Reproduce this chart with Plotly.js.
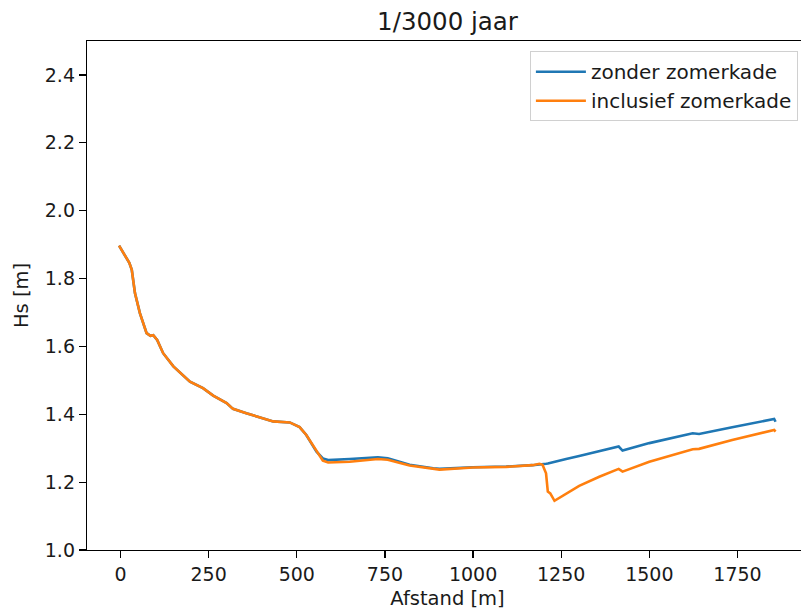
<!DOCTYPE html>
<html>
<head>
<meta charset="utf-8">
<script src="https://cdn.plot.ly/plotly-3.0.1.min.js"></script>
<style>
html, body { margin: 0; padding: 0; overflow: hidden; background: #fff; }
#chart { width: 822px; height: 610px; }
</style>
</head>
<body>
<div id="chart"></div>
<script>
const distance = [-4, 25, 32, 41, 55, 74, 85, 93, 104, 121, 150, 197, 234, 263, 301, 319, 357, 400, 433, 480, 508, 527, 556, 574, 589, 650, 730, 758, 820, 887, 905, 999, 1094, 1169, 1188, 1197, 1207, 1212, 1219, 1231, 1264, 1301, 1358, 1413, 1424, 1500, 1623, 1641, 1735, 1854, 1858];

const hsZonder = [1.897, 1.846, 1.826, 1.757, 1.698, 1.639, 1.631, 1.633, 1.619, 1.580, 1.541, 1.496, 1.477, 1.455, 1.433, 1.416, 1.403, 1.390, 1.379, 1.376, 1.362, 1.339, 1.290, 1.270, 1.265, 1.268, 1.273, 1.270, 1.251, 1.241, 1.239, 1.244, 1.246, 1.250, 1.251, 1.252, 1.254, 1.255, 1.257, 1.260, 1.268, 1.277, 1.291, 1.305, 1.293, 1.315, 1.344, 1.342, 1.362, 1.386, 1.378];

const hsInclusief = [1.897, 1.846, 1.826, 1.757, 1.698, 1.639, 1.631, 1.633, 1.619, 1.580, 1.541, 1.496, 1.477, 1.455, 1.433, 1.416, 1.403, 1.390, 1.379, 1.376, 1.362, 1.339, 1.290, 1.263, 1.258, 1.260, 1.268, 1.266, 1.249, 1.239, 1.237, 1.243, 1.245, 1.250, 1.254, 1.251, 1.226, 1.172, 1.167, 1.145, 1.165, 1.189, 1.216, 1.239, 1.231, 1.260, 1.297, 1.298, 1.324, 1.354, 1.349];

const seriesNames = ['zonder zomerkade', 'inclusief zomerkade'];
const titleText = '1/3000 jaar';
const xLabel = 'Afstand [m]';
const yLabel = 'Hs [m]';
const xTicks = [0, 250, 500, 750, 1000, 1250, 1500, 1750];
const yTicks = [1.0, 1.2, 1.4, 1.6, 1.8, 2.0, 2.2, 2.4];

const font = 'DejaVu Sans, sans-serif';
const txt = '#1a1a1a';

const traces = [
  { x: distance, y: hsZonder, name: seriesNames[0], mode: 'lines',
    line: { color: '#1f77b4', width: 2.6 } },
  { x: distance, y: hsInclusief, name: seriesNames[1], mode: 'lines',
    line: { color: '#ff7f0e', width: 2.6 } }
];

const axisCommon = {
  showline: true, mirror: true, linecolor: '#000', linewidth: 1.2,
  ticks: 'outside', ticklen: 7, tickwidth: 1.2, tickcolor: '#000',
  showgrid: false, zeroline: false,
  tickfont: { family: font, size: 19, color: txt }
};

const layout = {
  width: 822, height: 610,
  margin: { l: 87, r: 14, t: 41, b: 60 },
  paper_bgcolor: '#fff', plot_bgcolor: '#fff',
  font: { family: font, color: txt },
  title: { text: titleText, x: 0.5, xref: 'paper', xanchor: 'center',
           y: 1 - 21 / 610, yanchor: 'middle',
           font: { family: font, size: 24.5, color: txt } },
  xaxis: Object.assign({}, axisCommon, {
    range: [-95, 1950], tickmode: 'array', tickvals: xTicks,
    ticktext: xTicks.map(String),
    title: { text: xLabel, font: { family: font, size: 19.5, color: txt }, standoff: 7 }
  }),
  yaxis: Object.assign({}, axisCommon, {
    range: [1.0, 2.5], tickmode: 'array', tickvals: yTicks,
    ticktext: yTicks.map(v => v.toFixed(1)),
    title: { text: yLabel, font: { family: font, size: 19.5, color: txt }, standoff: 11 }
  }),
  legend: {
    x: 0.986, y: 0.98, xanchor: 'right', yanchor: 'top',
    bgcolor: '#fff', bordercolor: '#d0d0d0', borderwidth: 1,
    font: { family: font, size: 20, color: txt },
    tracegroupgap: 0, itemwidth: 50
  },
  showlegend: true
};

Plotly.newPlot('chart', traces, layout, { displayModeBar: false, staticPlot: true });
</script>
</body>
</html>
